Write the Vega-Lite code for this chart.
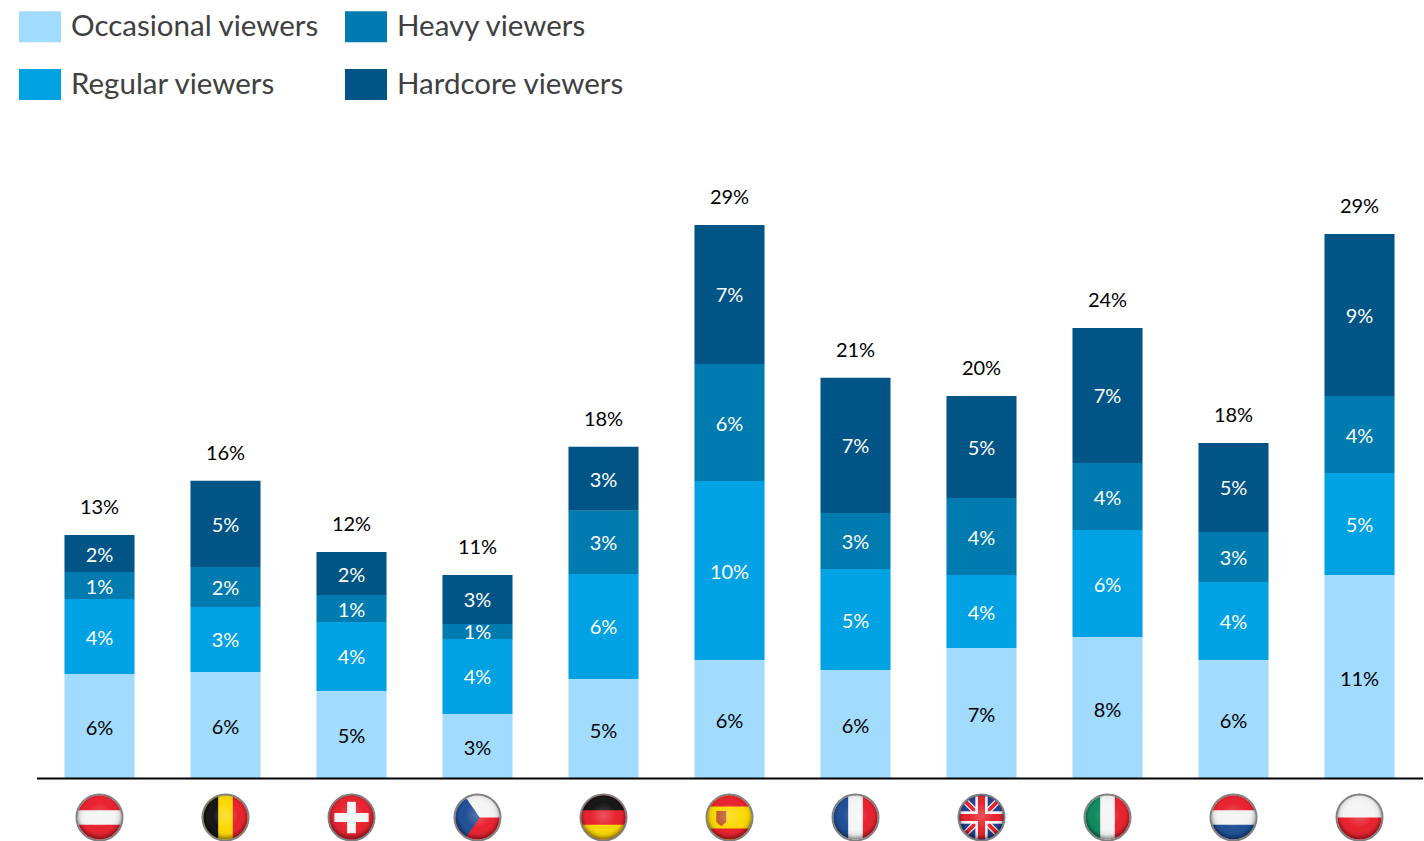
{"$schema":"https://vega.github.io/schema/vega-lite/v6.json","width":1424,"height":841,"autosize":"none","padding":0,"background":"white",
"datasets":{
"segments":[
{"c":"AT","s":"Occasional viewers","r":1,"v":5.47,"l":"6%"},{"c":"AT","s":"Regular viewers","r":2,"v":3.95,"l":"4%"},{"c":"AT","s":"Heavy viewers","r":3,"v":1.42,"l":"1%"},{"c":"AT","s":"Hardcore viewers","r":4,"v":1.95,"l":"2%"},
{"c":"BE","s":"Occasional viewers","r":1,"v":5.58,"l":"6%"},{"c":"BE","s":"Regular viewers","r":2,"v":3.42,"l":"3%"},{"c":"BE","s":"Heavy viewers","r":3,"v":2.11,"l":"2%"},{"c":"BE","s":"Hardcore viewers","r":4,"v":4.53,"l":"5%"},
{"c":"CH","s":"Occasional viewers","r":1,"v":4.58,"l":"5%"},{"c":"CH","s":"Regular viewers","r":2,"v":3.63,"l":"4%"},{"c":"CH","s":"Heavy viewers","r":3,"v":1.42,"l":"1%"},{"c":"CH","s":"Hardcore viewers","r":4,"v":2.26,"l":"2%"},
{"c":"CZ","s":"Occasional viewers","r":1,"v":3.37,"l":"3%"},{"c":"CZ","s":"Regular viewers","r":2,"v":3.95,"l":"4%"},{"c":"CZ","s":"Heavy viewers","r":3,"v":0.79,"l":"1%"},{"c":"CZ","s":"Hardcore viewers","r":4,"v":2.58,"l":"3%"},
{"c":"DE","s":"Occasional viewers","r":1,"v":5.21,"l":"5%"},{"c":"DE","s":"Regular viewers","r":2,"v":5.53,"l":"6%"},{"c":"DE","s":"Heavy viewers","r":3,"v":3.32,"l":"3%"},{"c":"DE","s":"Hardcore viewers","r":4,"v":3.37,"l":"3%"},
{"c":"ES","s":"Occasional viewers","r":1,"v":6.21,"l":"6%"},{"c":"ES","s":"Regular viewers","r":2,"v":9.42,"l":"10%"},{"c":"ES","s":"Heavy viewers","r":3,"v":6.16,"l":"6%"},{"c":"ES","s":"Hardcore viewers","r":4,"v":7.32,"l":"7%"},
{"c":"FR","s":"Occasional viewers","r":1,"v":5.68,"l":"6%"},{"c":"FR","s":"Regular viewers","r":2,"v":5.32,"l":"5%"},{"c":"FR","s":"Heavy viewers","r":3,"v":2.95,"l":"3%"},{"c":"FR","s":"Hardcore viewers","r":4,"v":7.11,"l":"7%"},
{"c":"GB","s":"Occasional viewers","r":1,"v":6.84,"l":"7%"},{"c":"GB","s":"Regular viewers","r":2,"v":3.84,"l":"4%"},{"c":"GB","s":"Heavy viewers","r":3,"v":4.05,"l":"4%"},{"c":"GB","s":"Hardcore viewers","r":4,"v":5.37,"l":"5%"},
{"c":"IT","s":"Occasional viewers","r":1,"v":7.42,"l":"8%"},{"c":"IT","s":"Regular viewers","r":2,"v":5.63,"l":"6%"},{"c":"IT","s":"Heavy viewers","r":3,"v":3.53,"l":"4%"},{"c":"IT","s":"Hardcore viewers","r":4,"v":7.11,"l":"7%"},
{"c":"NL","s":"Occasional viewers","r":1,"v":6.21,"l":"6%"},{"c":"NL","s":"Regular viewers","r":2,"v":4.11,"l":"4%"},{"c":"NL","s":"Heavy viewers","r":3,"v":2.63,"l":"3%"},{"c":"NL","s":"Hardcore viewers","r":4,"v":4.68,"l":"5%"},
{"c":"PL","s":"Occasional viewers","r":1,"v":10.68,"l":"11%"},{"c":"PL","s":"Regular viewers","r":2,"v":5.37,"l":"5%"},{"c":"PL","s":"Heavy viewers","r":3,"v":4.05,"l":"4%"},{"c":"PL","s":"Hardcore viewers","r":4,"v":8.53,"l":"9%"}
],
"totals":[
{"c":"AT","top":12.79,"l":"13%"},{"c":"BE","top":15.63,"l":"16%"},{"c":"CH","top":11.89,"l":"12%"},{"c":"CZ","top":10.68,"l":"11%"},{"c":"DE","top":17.42,"l":"18%"},{"c":"ES","top":29.11,"l":"29%"},{"c":"FR","top":21.05,"l":"21%"},{"c":"GB","top":20.11,"l":"20%"},{"c":"IT","top":23.68,"l":"24%"},{"c":"NL","top":17.63,"l":"18%"},{"c":"PL","top":28.63,"l":"29%"}
],
"flags":[
{"c":"AT","p":"disc","t":"white"},{"c":"AT","p":"top","t":"red"},{"c":"AT","p":"bottom","t":"red"},
{"c":"BE","p":"disc","t":"yellow"},{"c":"BE","p":"left","t":"black"},{"c":"BE","p":"right","t":"red"},
{"c":"CH","p":"disc","t":"red"},{"c":"CH","p":"swiss","t":"white"},
{"c":"CZ","p":"disc","t":"white"},{"c":"CZ","p":"lower","t":"red"},{"c":"CZ","p":"wedge","t":"blue"},
{"c":"DE","p":"disc","t":"red"},{"c":"DE","p":"top","t":"black"},{"c":"DE","p":"bottom","t":"yellow"},
{"c":"ES","p":"disc","t":"yellow"},{"c":"ES","p":"topQ","t":"red"},{"c":"ES","p":"botQ","t":"red"},{"c":"ES","p":"arms","t":"arms"},
{"c":"FR","p":"disc","t":"white"},{"c":"FR","p":"left","t":"blue"},{"c":"FR","p":"right","t":"red"},
{"c":"GB","p":"disc","t":"navy"},{"c":"GB","p":"diagW","t":"white"},{"c":"GB","p":"diagR","t":"red"},{"c":"GB","p":"crossW","t":"white"},{"c":"GB","p":"crossR","t":"red"},
{"c":"IT","p":"disc","t":"white"},{"c":"IT","p":"left","t":"green"},{"c":"IT","p":"right","t":"red"},
{"c":"NL","p":"disc","t":"white"},{"c":"NL","p":"top","t":"red"},{"c":"NL","p":"bottom","t":"blue"},
{"c":"PL","p":"disc","t":"white"},{"c":"PL","p":"lower","t":"red"}
],
"discs":[{"c":"AT"},{"c":"BE"},{"c":"CH"},{"c":"CZ"},{"c":"DE"},{"c":"ES"},{"c":"FR"},{"c":"GB"},{"c":"IT"},{"c":"NL"},{"c":"PL"}]
},
"encoding":{"x":{"field":"c","type":"nominal","sort":null,"title":null,"scale":{"domain":["AT","BE","CH","CZ","DE","ES","FR","GB","IT","NL","PL"],"range":[36.5,1422.5],"paddingInner":0.444,"paddingOuter":0.222},"axis":{"orient":"bottom","offset":-63,"labels":false,"ticks":false,"title":null,"grid":false,"domain":true,"domainColor":"#000000","domainWidth":2,"zindex":1}}},
"layer":[
{"data":{"name":"segments"},"mark":{"type":"bar","strokeWidth":0},
"encoding":{
"y":{"field":"v","type":"quantitative","stack":"zero","title":null,"scale":{"domain":[-3.316,40.947],"nice":false,"zero":false},"axis":null},
"order":{"field":"r","type":"ordinal"},
"color":{"field":"s","type":"nominal","title":null,"scale":{"domain":["Occasional viewers","Regular viewers","Heavy viewers","Hardcore viewers"],"range":["#a1dcff","#00a2e3","#007bb0","#005486"]},
"legend":{"orient":"none","legendX":19,"legendY":5.5,"direction":"vertical","columns":2,"title":null,"symbolType":"M-1,-0.738H1V0.738H-1Z","symbolSize":1764,"symbolStrokeWidth":0,"labelFont":"Lato","labelFontSize":29.5,"labelColor":"#404040","labelOffset":10,"rowPadding":21,"columnPadding":26,"labelLimit":400,"padding":0}}}},
{"data":{"name":"segments"},"transform":[{"filter":"datum.r == 1"}],"mark":{"type":"text","font":"Lato","fontSize":20,"color":"#000000","dy":3},
"encoding":{"y":{"field":"v","type":"quantitative","stack":"zero","bandPosition":0.5},"order":{"field":"r","type":"ordinal"},"detail":{"field":"s"},"text":{"field":"l"}}},
{"data":{"name":"segments"},"mark":{"type":"text","font":"Lato","fontSize":20,"color":"#ffffff","dy":2},
"encoding":{"y":{"field":"v","type":"quantitative","stack":"zero","bandPosition":0.5},"order":{"field":"r","type":"ordinal"},"detail":{"field":"s"},"text":{"field":"l"},"opacity":{"condition":{"test":"datum.r == 1","value":0},"value":1}}},
{"data":{"name":"totals"},"mark":{"type":"text","font":"Lato","fontSize":20,"color":"#000000","dy":-27},
"encoding":{"y":{"field":"top","type":"quantitative"},"text":{"field":"l"}}},
{"data":{"name":"discs"},"mark":{"type":"point","shape":"circle","filled":false,"size":2025,"stroke":"#808080","strokeWidth":3,"opacity":1},
"encoding":{"y":{"datum":-2.08}}},
{"data":{"name":"flags"},"mark":{"type":"point","filled":true,"size":1936,"opacity":1,"strokeWidth":0},
"encoding":{"y":{"datum":-2.08},
"shape":{"field":"p","type":"nominal","legend":null,"scale":{"domain":["disc","top","bottom","left","right","lower","wedge","topQ","botQ","arms","swiss","diagW","diagR","crossW","crossR"],"range":[
"M-1,0A1,1,0,1,1,1,0A1,1,0,1,1,-1,0Z",
"M-0.943,-0.333A1,1,0,0,1,0.943,-0.333Z",
"M-0.943,0.333A1,1,0,0,0,0.943,0.333Z",
"M-0.333,-0.943A1,1,0,0,0,-0.333,0.943Z",
"M0.333,-0.943A1,1,0,0,1,0.333,0.943Z",
"M-1,0A1,1,0,0,0,1,0Z",
"M-0.5,-0.866L0.1,0L-0.5,0.866A1,1,0,0,1,-0.5,-0.866Z",
"M-0.866,-0.5A1,1,0,0,1,0.866,-0.5Z",
"M-0.866,0.5A1,1,0,0,0,0.866,0.5Z",
"M-0.6,-0.3H-0.15V0.2L-0.375,0.4L-0.6,0.2Z",
"M-0.2,-0.72H0.2V-0.2H0.78V0.2H0.2V0.72H-0.2V0.2H-0.78V-0.2H-0.2Z",
"M-0.8,-0.6L-0.6,-0.8L0,-0.2L0.6,-0.8L0.8,-0.6L0.2,0L0.8,0.6L0.6,0.8L0,0.2L-0.6,0.8L-0.8,0.6L-0.2,0Z",
"M-0.76,-0.64L-0.64,-0.76L0,-0.12L0.64,-0.76L0.76,-0.64L0.12,0L0.76,0.64L0.64,0.76L0,0.12L-0.64,0.76L-0.76,0.64L-0.12,0Z",
"M-0.28,-0.96H0.28V-0.28H0.96V0.28H0.28V0.96H-0.28V0.28H-0.96V-0.28H-0.28Z",
"M-0.16,-0.98H0.16V-0.16H0.98V0.16H0.16V0.98H-0.16V0.16H-0.98V-0.16H-0.16Z"
]}},
"color":{"field":"t","type":"nominal","legend":null,"scale":{"domain":["white","red","yellow","black","blue","navy","green","arms"],"range":["#f4f4f4","#e8222e","#fcd800","#141414","#1f4f96","#27408b","#0f8a5f","#c25a32"]}}}},
{"data":{"name":"discs"},"mark":{"type":"point","shape":"circle","filled":true,"size":1936,"opacity":1,"strokeWidth":0,"fill":{"gradient":"radial","x1":0.5,"y1":0.45,"r1":0,"x2":0.5,"y2":0.45,"r2":0.56,"stops":[{"offset":0,"color":"rgba(255,255,255,0.22)"},{"offset":0.55,"color":"rgba(255,255,255,0)"},{"offset":0.8,"color":"rgba(0,0,0,0.08)"},{"offset":1,"color":"rgba(0,0,0,0.5)"}]}},
"encoding":{"y":{"datum":-2.08}}}
],
"resolve":{"scale":{"color":"independent","shape":"independent"}},
"config":{"view":{"stroke":null},"font":"Lato"}}
